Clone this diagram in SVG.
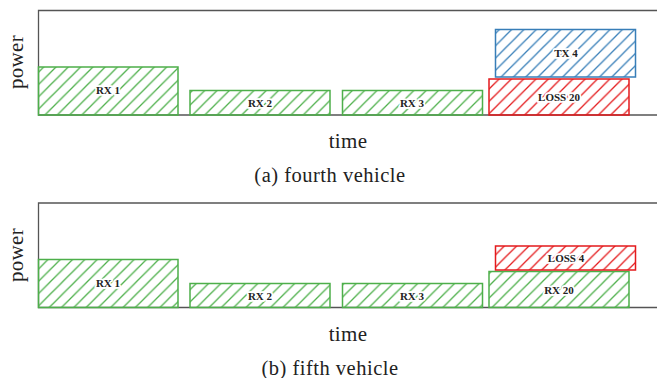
<svg xmlns="http://www.w3.org/2000/svg" width="657" height="378" viewBox="0 0 657 378">
<style>
.ax{fill:none;stroke:#555;stroke-width:1.3}
.g{stroke:#4daf4a;stroke-width:1.5}
.r{stroke:#e41a1c;stroke-width:1.5}
.b{stroke:#377eb8;stroke-width:1.5}
.lbl{font-family:"Liberation Serif",serif;font-size:11px;font-weight:bold;fill:#222;text-anchor:middle;stroke:#fff;stroke-width:3.5;paint-order:stroke;stroke-linejoin:round}
.big{font-family:"Liberation Serif",serif;font-size:21px;fill:#222;text-anchor:middle;letter-spacing:0.3px}
.cap{font-family:"Liberation Serif",serif;font-size:20.5px;fill:#222;text-anchor:middle;letter-spacing:0.5px}
</style>
<defs>
<pattern id="hg" patternUnits="userSpaceOnUse" width="12.3" height="12.3">
<path d="M0,12.3 L12.3,0 M-3,3 L3,-3 M9.3,15.3 L15.3,9.3" stroke="#4daf4a" stroke-width="1.3" fill="none"/>
</pattern>
<pattern id="hr" patternUnits="userSpaceOnUse" width="12.3" height="12.3">
<path d="M0,12.3 L12.3,0 M-3,3 L3,-3 M9.3,15.3 L15.3,9.3" stroke="#e41a1c" stroke-width="1.3" fill="none"/>
</pattern>
<pattern id="hb" patternUnits="userSpaceOnUse" width="12.3" height="12.3">
<path d="M0,12.3 L12.3,0 M-3,3 L3,-3 M9.3,15.3 L15.3,9.3" stroke="#377eb8" stroke-width="1.3" fill="none"/>
</pattern>
</defs>
<g id="panel-a">
<path class="ax" d="M657,10.5 H38.5 V115 H657"/>
<text class="big" transform="translate(23,62) rotate(-90)">power</text>
<text class="big" x="348" y="148">time</text>
<text class="cap" x="330" y="182">(a) fourth vehicle</text>
<g id="a-rx1"><rect class="g" x="38.5" y="67" width="139.5" height="48" fill="url(#hg)"/><text class="lbl" x="108" y="94">RX 1</text></g>
<g id="a-rx2"><rect class="g" x="190" y="90.5" width="140" height="24.5" fill="url(#hg)"/><text class="lbl" x="260" y="106.5">RX 2</text></g>
<g id="a-rx3"><rect class="g" x="342.5" y="90.5" width="140" height="24.5" fill="url(#hg)"/><text class="lbl" x="412" y="106.5">RX 3</text></g>
<g id="a-loss20"><rect class="r" x="489" y="79" width="140" height="36" fill="url(#hr)"/><text class="lbl" x="559" y="100.5">LOSS 20</text></g>
<g id="a-tx4"><rect class="b" x="495.5" y="29.5" width="140" height="47.5" fill="url(#hb)"/><text class="lbl" x="566" y="56.5">TX 4</text></g>
</g>
<g id="panel-b">
<path class="ax" d="M657,203 H38.5 V307.5 H657"/>
<text class="big" transform="translate(23,255) rotate(-90)">power</text>
<text class="big" x="348" y="341">time</text>
<text class="cap" x="330" y="375">(b) fifth vehicle</text>
<g id="b-rx1"><rect class="g" x="38.5" y="259.5" width="139.5" height="48" fill="url(#hg)"/><text class="lbl" x="108" y="286.5">RX 1</text></g>
<g id="b-rx2"><rect class="g" x="190" y="283.5" width="140" height="24" fill="url(#hg)"/><text class="lbl" x="260" y="299.5">RX 2</text></g>
<g id="b-rx3"><rect class="g" x="342.5" y="283.5" width="140" height="24" fill="url(#hg)"/><text class="lbl" x="412" y="299.5">RX 3</text></g>
<g id="b-rx20"><rect class="g" x="489" y="271.5" width="140" height="36" fill="url(#hg)"/><text class="lbl" x="559" y="293.5">RX 20</text></g>
<g id="b-loss4"><rect class="r" x="495.5" y="246" width="140" height="24" fill="url(#hr)"/><text class="lbl" x="566" y="261.5">LOSS 4</text></g>
</g>
</svg>
